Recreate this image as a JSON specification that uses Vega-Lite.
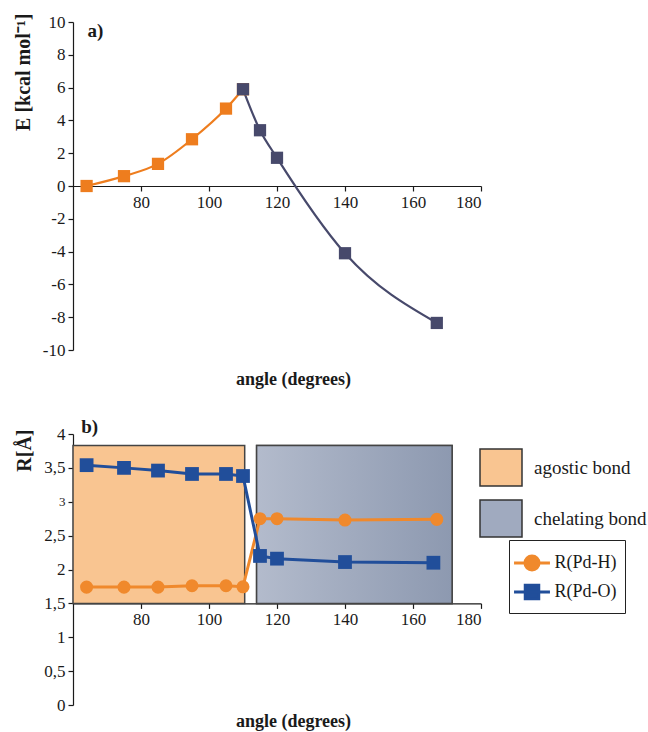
{
  "$schema": "https://vega.github.io/schema/vega-lite/v6.json",
  "background": "white",
  "padding": {"left": 12, "top": 13, "right": 0, "bottom": 0},
  "config": {
    "view": {"stroke": null},
    "font": "Liberation Serif",
    "axis": {
      "grid": false,
      "domainColor": "#1a1a1a", "tickColor": "#1a1a1a", "labelColor": "#1a1a1a", "titleColor": "#1a1a1a",
      "labelFont": "Liberation Serif", "titleFont": "Liberation Serif",
      "labelFontSize": 17, "titleFontSize": 18, "titleFontWeight": "bold",
      "tickSize": 5, "domainWidth": 1.2, "tickWidth": 1.2, "labelPadding": 3, "labelOverlap": false
    }
  },
  "datasets": {
    "energy": [
      {"angle": 64, "E": 0, "seg": "agostic"},
      {"angle": 75, "E": 0.6, "seg": "agostic"},
      {"angle": 85, "E": 1.35, "seg": "agostic"},
      {"angle": 95, "E": 2.85, "seg": "agostic"},
      {"angle": 105, "E": 4.72, "seg": "agostic"},
      {"angle": 110, "E": 5.9, "seg": "agostic"},
      {"angle": 110, "E": 5.9, "seg": "chelating"},
      {"angle": 115, "E": 3.4, "seg": "chelating"},
      {"angle": 120, "E": 1.72, "seg": "chelating"},
      {"angle": 140, "E": -4.1, "seg": "chelating"},
      {"angle": 167, "E": -8.35, "seg": "chelating"}
    ],
    "dist": [
      {"angle": 64, "R": 1.74, "series": "R(Pd-H)"},
      {"angle": 75, "R": 1.74, "series": "R(Pd-H)"},
      {"angle": 85, "R": 1.74, "series": "R(Pd-H)"},
      {"angle": 95, "R": 1.76, "series": "R(Pd-H)"},
      {"angle": 105, "R": 1.76, "series": "R(Pd-H)"},
      {"angle": 110, "R": 1.745, "series": "R(Pd-H)"},
      {"angle": 115, "R": 2.75, "series": "R(Pd-H)"},
      {"angle": 120, "R": 2.75, "series": "R(Pd-H)"},
      {"angle": 140, "R": 2.73, "series": "R(Pd-H)"},
      {"angle": 167, "R": 2.74, "series": "R(Pd-H)"},
      {"angle": 64, "R": 3.54, "series": "R(Pd-O)"},
      {"angle": 75, "R": 3.5, "series": "R(Pd-O)"},
      {"angle": 85, "R": 3.46, "series": "R(Pd-O)"},
      {"angle": 95, "R": 3.41, "series": "R(Pd-O)"},
      {"angle": 105, "R": 3.41, "series": "R(Pd-O)"},
      {"angle": 110, "R": 3.38, "series": "R(Pd-O)"},
      {"angle": 115, "R": 2.2, "series": "R(Pd-O)"},
      {"angle": 120, "R": 2.16, "series": "R(Pd-O)"},
      {"angle": 140, "R": 2.11, "series": "R(Pd-O)"},
      {"angle": 166, "R": 2.1, "series": "R(Pd-O)"}
    ],
    "bonds": [
      {"bond": "agostic bond", "angle": 60, "angle_end": 110.5, "R": 1.5, "R_end": 3.83},
      {"bond": "chelating bond", "angle": 114, "angle_end": 171.5, "R": 1.5, "R_end": 3.83}
    ],
    "labA": [{"label": "a)"}],
    "labB": [{"label": "b)"}]
  },
  "bounds": "flush",
  "spacing": 84,
  "resolve": {"scale": {"x": "independent", "y": "independent", "color": "independent", "shape": "independent", "fill": "independent", "stroke": "independent"}},
  "vconcat": [
    {
      "width": 408,
      "height": 328,
      "layer": [
        {
          "encoding": {
            "x": {"field": "angle", "type": "quantitative", "title": "angle (degrees)",
              "scale": {"domain": [60, 180], "nice": false, "zero": false},
              "axis": {"offset": -164, "values": [80, 100, 120, 140, 160, 180], "title": "angle (degrees)", "titleY": 193, "titleX": 220, "titleBaseline": "middle", "labelPadding": 3, "labelOverlap": false}},
            "y": {"field": "E", "type": "quantitative", "title": "E [kcal mol⁻¹]",
              "scale": {"domain": [-10, 10], "nice": false, "zero": false},
              "axis": {"values": [-10, -8, -6, -4, -2, 0, 2, 4, 6, 8, 10], "labelOverlap": false, "labelExpr": "(datum.value < 0 ? '-' : '') + abs(datum.value)", "title": "E [kcal mol⁻¹]", "titleFontSize": 20, "titleAnchor": "end", "titleAlign": "right", "titleY": -9, "titleX": -50, "titleBaseline": "middle", "titleAngle": -90}},
            "color": {"field": "seg", "type": "nominal", "scale": {"domain": ["agostic", "chelating"], "range": ["#ee7d1e", "#47496b"]}, "legend": null}
          },
          "layer": [
            {
              "data": {"name": "energy"},
              "mark": {"type": "line", "interpolate": "monotone", "strokeWidth": 2.2}
            },
            {
              "data": {"name": "energy"},
              "mark": {"type": "point", "shape": "square", "filled": true, "size": 150, "opacity": 1}
            }
          ]
        },
        {
          "data": {"name": "labA"},
          "mark": {"type": "text", "align": "left", "baseline": "middle", "fontSize": 19, "fontWeight": "bold", "font": "Liberation Serif", "color": "#1a1a1a"},
          "encoding": {
            "x": {"datum": 64.3, "type": "quantitative", "title": "angle (degrees)",
              "scale": {"domain": [60, 180], "nice": false, "zero": false},
              "axis": {"offset": -164, "values": [80, 100, 120, 140, 160, 180], "title": "angle (degrees)", "titleY": 193, "titleX": 220, "titleBaseline": "middle", "labelPadding": 3, "labelOverlap": false}},
            "y": {"datum": 9.45, "type": "quantitative", "title": "E [kcal mol⁻¹]",
              "scale": {"domain": [-10, 10], "nice": false, "zero": false},
              "axis": {"values": [-10, -8, -6, -4, -2, 0, 2, 4, 6, 8, 10], "labelOverlap": false, "labelExpr": "(datum.value < 0 ? '-' : '') + abs(datum.value)", "title": "E [kcal mol⁻¹]", "titleFontSize": 20, "titleAnchor": "end", "titleAlign": "right", "titleY": -9, "titleX": -50, "titleBaseline": "middle", "titleAngle": -90}},
            "text": {"field": "label", "type": "nominal"}
          }
        }
      ]
    },
    {
      "width": 408,
      "height": 271,
      "layer": [
        {
          "encoding": {
            "x": {"field": "angle", "type": "quantitative", "title": "angle (degrees)",
              "scale": {"domain": [60, 180], "nice": false, "zero": false},
              "axis": {"offset": -101.6, "values": [80, 100, 120, 140, 160, 180], "title": "angle (degrees)", "titleY": 118, "titleX": 220, "titleBaseline": "middle", "labelPadding": 3, "labelOverlap": false}},
            "y": {"field": "R", "type": "quantitative", "title": "R[Å]",
              "scale": {"domain": [0, 4], "nice": false, "zero": false},
              "axis": {"values": [0, 0.5, 1, 1.5, 2, 2.5, 3, 3.5, 4], "labelOverlap": false, "format": ".1~f", "labelExpr": "replace(datum.label, '.', ',')", "labelFontSize": {"condition": {"test": "datum.value === 3", "value": 13}, "value": 17}, "title": "R[Å]", "titleFontSize": 20, "titleAnchor": "end", "titleAlign": "right", "titleY": -5, "titleX": -49, "titleBaseline": "middle", "titleAngle": -90}}
          },
          "layer": [
            {
              "data": {"name": "bonds"},
              "mark": {"type": "rect", "stroke": "#444444", "strokeWidth": 1.5, "opacity": 1},
              "encoding": {
                "x2": {"field": "angle_end"},
                "y2": {"field": "R_end"},
                "fill": {"field": "bond", "type": "nominal",
                  "scale": {"domain": ["agostic bond", "chelating bond"], "range": ["#f9c591", "#a0aabf"]},
                  "legend": {"orient": "none", "legendX": 406, "legendY": 11.5, "title": null, "padding": 0,
                    "symbolSize": 1764, "symbolType": "M-1,-0.88L1,-0.88L1,0.88L-1,0.88Z",
                    "symbolStrokeColor": "#333333", "symbolStrokeWidth": 1.5, "symbolOpacity": 1,
                    "labelFont": "Liberation Serif", "labelFontSize": 19, "labelColor": "#1a1a1a", "labelOffset": 11, "rowPadding": 7}
                }
              }
            },
            {
              "data": {"name": "bonds"},
              "transform": [{"filter": "datum.bond === 'chelating bond'"}],
              "mark": {"type": "rect", "stroke": "#444444", "strokeWidth": 1.5,
                "fill": {"gradient": "linear", "x1": 0, "y1": 0, "x2": 1, "y2": 0, "stops": [{"offset": 0, "color": "#b3bbcc"}, {"offset": 1, "color": "#8d99b0"}]}},
              "encoding": {"x2": {"field": "angle_end"}, "y2": {"field": "R_end"}}
            },
            {
              "data": {"name": "dist"},
              "mark": {"type": "line", "strokeWidth": 3},
              "encoding": {"color": {"field": "series", "type": "nominal", "scale": {"domain": ["R(Pd-H)", "R(Pd-O)"], "range": ["#f0892c", "#214e9a"]},
                "legend": {"orient": "none", "legendX": 436, "legendY": 106, "title": null, "padding": 8,
                  "strokeColor": "#222222", "fillColor": "white", "symbolSize": 729, "rowPadding": 0, "symbolStrokeWidth": 3, "symbolOpacity": 1,
                  "labelFont": "Liberation Serif", "labelFontSize": 18, "labelColor": "#1a1a1a", "labelOffset": 7.5}}}
            },
            {
              "data": {"name": "dist"},
              "transform": [{"filter": "datum.series === 'R(Pd-H)'"}],
              "mark": {"type": "point", "shape": "circle", "filled": true, "size": 170, "opacity": 1, "color": "#f0892c"}
            },
            {
              "data": {"name": "dist"},
              "transform": [{"filter": "datum.series === 'R(Pd-O)'"}],
              "mark": {"type": "point", "shape": "square", "filled": true, "size": 190, "opacity": 1, "color": "#214e9a"}
            },
            {
              "data": {"name": "dist"},
              "mark": {"type": "point", "filled": true, "size": 729, "opacity": 0},
              "encoding": {
                "color": {"field": "series", "type": "nominal", "scale": {"domain": ["R(Pd-H)", "R(Pd-O)"], "range": ["#f0892c", "#214e9a"]},
                  "legend": {"orient": "none", "legendX": 436, "legendY": 106, "title": null, "padding": 8,
                    "strokeColor": "#222222", "fillColor": "white", "symbolSize": 729, "rowPadding": 0, "symbolStrokeWidth": 3, "symbolOpacity": 1,
                    "labelFont": "Liberation Serif", "labelFontSize": 18, "labelColor": "#1a1a1a", "labelOffset": 7.5}},
                "stroke": {"field": "series", "type": "nominal", "scale": {"domain": ["R(Pd-H)", "R(Pd-O)"], "range": ["#f0892c", "#214e9a"]},
                  "legend": {"orient": "none", "legendX": 436, "legendY": 106, "title": null, "padding": 8,
                    "strokeColor": "#222222", "fillColor": "white", "symbolSize": 729, "rowPadding": 0, "symbolStrokeWidth": 3, "symbolOpacity": 1,
                    "labelFont": "Liberation Serif", "labelFontSize": 18, "labelColor": "#1a1a1a", "labelOffset": 7.5}},
                "shape": {"field": "series", "type": "nominal", "scale": {"domain": ["R(Pd-H)", "R(Pd-O)"], "range": ["M-1.33,0L1.33,0M0.52,0A0.52,0.52 0 1 1 -0.52,0A0.52,0.52 0 1 1 0.52,0Z", "M-1.33,0L1.33,0M-0.5,-0.5L0.5,-0.5L0.5,0.5L-0.5,0.5Z"]},
                  "legend": {"orient": "none", "legendX": 436, "legendY": 106, "title": null, "padding": 8,
                    "strokeColor": "#222222", "fillColor": "white", "symbolSize": 729, "rowPadding": 0, "symbolStrokeWidth": 3, "symbolOpacity": 1,
                    "labelFont": "Liberation Serif", "labelFontSize": 18, "labelColor": "#1a1a1a", "labelOffset": 7.5}}
              }
            }
          ]
        },
        {
          "data": {"name": "labB"},
          "mark": {"type": "text", "align": "left", "baseline": "middle", "fontSize": 19, "fontWeight": "bold", "font": "Liberation Serif", "color": "#1a1a1a"},
          "encoding": {
            "x": {"datum": 62.4, "type": "quantitative", "title": "angle (degrees)",
              "scale": {"domain": [60, 180], "nice": false, "zero": false},
              "axis": {"offset": -101.6, "values": [80, 100, 120, 140, 160, 180], "title": "angle (degrees)", "titleY": 118, "titleX": 220, "titleBaseline": "middle", "labelPadding": 3, "labelOverlap": false}},
            "y": {"datum": 4.1, "type": "quantitative", "title": "R[Å]",
              "scale": {"domain": [0, 4], "nice": false, "zero": false},
              "axis": {"values": [0, 0.5, 1, 1.5, 2, 2.5, 3, 3.5, 4], "labelOverlap": false, "format": ".1~f", "labelExpr": "replace(datum.label, '.', ',')", "labelFontSize": {"condition": {"test": "datum.value === 3", "value": 13}, "value": 17}, "title": "R[Å]", "titleFontSize": 20, "titleAnchor": "end", "titleAlign": "right", "titleY": -5, "titleX": -49, "titleBaseline": "middle", "titleAngle": -90}},
            "text": {"field": "label", "type": "nominal"}
          }
        }
      ]
    }
  ]
}
